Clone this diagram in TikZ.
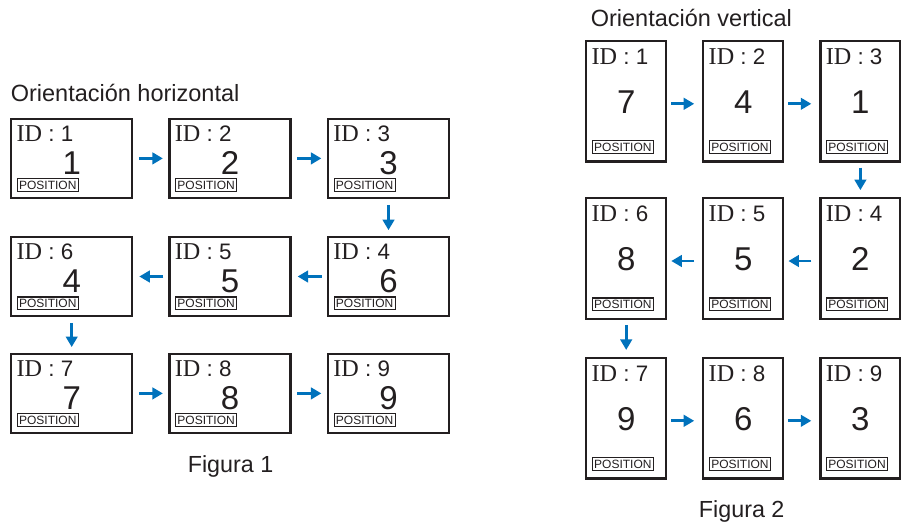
\documentclass[tikz,border=0pt]{standalone}
\usepackage{fontspec}
\setmainfont{Liberation Sans}
\newfontfamily\idserif[Scale=1.08]{Liberation Serif}
\usetikzlibrary{arrows.meta}
\definecolor{arrowblue}{RGB}{0,114,188}
\definecolor{ink}{RGB}{35,31,32}
\tikzset{
 hbox/.style={draw=ink, line width=2.2pt, minimum width=121pt, minimum height=78.5pt, inner sep=0pt},
 vbox/.style={draw=ink, line width=2.2pt, minimum width=80pt, minimum height=120.5pt, inner sep=0pt},
 idlabel/.style={anchor=base west, inner sep=0pt, font=\fontsize{22.4}{24}\selectfont, text=ink},
 numlabel/.style={anchor=base, inner sep=0pt, font=\fontsize{33}{36}\selectfont, text=ink},
 poslabel/.style={anchor=south west, draw=ink, line width=1.1pt, inner xsep=1.8pt, inner ysep=2pt, text height=8.6pt, text depth=0pt, font=\fontsize{12}{12}\selectfont, text=ink},
 flow/.style={draw=arrowblue, line width=2.7pt, -{Triangle[length=10.5pt,width=11.5pt]}},
 titletext/.style={anchor=base west, inner sep=0pt, font=\fontsize{23.5}{26}\selectfont, text=ink},
 captiontext/.style={anchor=base, inner sep=0pt, font=\fontsize{23.3}{26}\selectfont, text=ink}
}
\begin{document}
\begin{tikzpicture}[x=1pt,y=-1pt]
\useasboundingbox (0,0) rectangle (901,525);
% Figure 1
\foreach \i/\x/\y/\n in {1/71.7/158.4/1, 2/230/158.4/2, 3/388.5/158.4/3, 4/388.5/276.5/6, 5/230/276.5/5, 6/71.7/276.5/4, 7/71.7/393.4/7, 8/230/393.4/8, 9/388.5/393.4/9} {
  \node[hbox] (h\i) at (\x,\y) {};
  \node[idlabel] (hid\i) at ([shift={(6.3,23.3)}]h\i.north west) {{\idserif ID} : \i};
  \node[numlabel] (hn\i) at ([shift={(0,15.7)}]h\i.center) {\n};
  \node[poslabel] (hp\i) at ([shift={(6.7,-6.7)}]h\i.south west) {POSITION};
}
\draw[flow, shorten <=5.5pt, shorten >=5.5pt] (h1) -- (h2);
\draw[flow, shorten <=5.5pt, shorten >=5.5pt] (h2) -- (h3);
\draw[flow, shorten <=6pt, shorten >=6pt] (h3) -- (h4);
\draw[flow, shorten <=5pt, shorten >=6pt] (h4) -- (h5);
\draw[flow, shorten <=5pt, shorten >=6pt] (h5) -- (h6);
\draw[flow, shorten <=6pt, shorten >=6pt] (h6) -- (h7);
\draw[flow, shorten <=5.5pt, shorten >=5.5pt] (h7) -- (h8);
\draw[flow, shorten <=5.5pt, shorten >=5.5pt] (h8) -- (h9);
\node[titletext] (t1) at (10.6,101.7) {Orientación horizontal};
\node[captiontext] (c1) at (230.5,472) {Figura 1};
% Figure 2
\foreach \i/\x/\y/\n in {1/626.2/101.3/7, 2/743.3/101.3/4, 3/860.4/101.3/1, 4/860.4/258.5/2, 5/743.3/258.5/5, 6/626.2/258.5/8, 7/626.2/418.3/9, 8/743.3/418.3/6, 9/860.4/418.3/3} {
  \node[vbox] (v\i) at (\x,\y) {};
  \node[idlabel] (vid\i) at ([shift={(6.3,24.3)}]v\i.north west) {{\idserif ID} : \i};
  \node[numlabel] (vn\i) at ([shift={(0,12)}]v\i.center) {\n};
  \node[poslabel] (vp\i) at ([shift={(6.7,-8.7)}]v\i.south west) {POSITION};
}
\draw[flow, shorten <=4pt, shorten >=8pt] ([yshift=-2.5pt]v1.east) -- ([yshift=-2.5pt]v2.west);
\draw[flow, shorten <=4pt, shorten >=8pt] ([yshift=-2.5pt]v2.east) -- ([yshift=-2.5pt]v3.west);
\draw[flow, shorten <=5pt, shorten >=7pt] (v3) -- (v4);
\draw[flow, shorten <=8pt, shorten >=4pt] ([yshift=-2.5pt]v4.west) -- ([yshift=-2.5pt]v5.east);
\draw[flow, shorten <=8pt, shorten >=4pt] ([yshift=-2.5pt]v5.west) -- ([yshift=-2.5pt]v6.east);
\draw[flow, shorten <=5pt, shorten >=7pt] (v6) -- (v7);
\draw[flow, shorten <=4pt, shorten >=8pt] ([yshift=-2.5pt]v7.east) -- ([yshift=-2.5pt]v8.west);
\draw[flow, shorten <=4pt, shorten >=8pt] ([yshift=-2.5pt]v8.east) -- ([yshift=-2.5pt]v9.west);
\node[titletext] (t2) at (590.6,26.7) {Orientación vertical};
\node[captiontext] (c2) at (741.7,517.5) {Figura 2};
\end{tikzpicture}
\end{document}
